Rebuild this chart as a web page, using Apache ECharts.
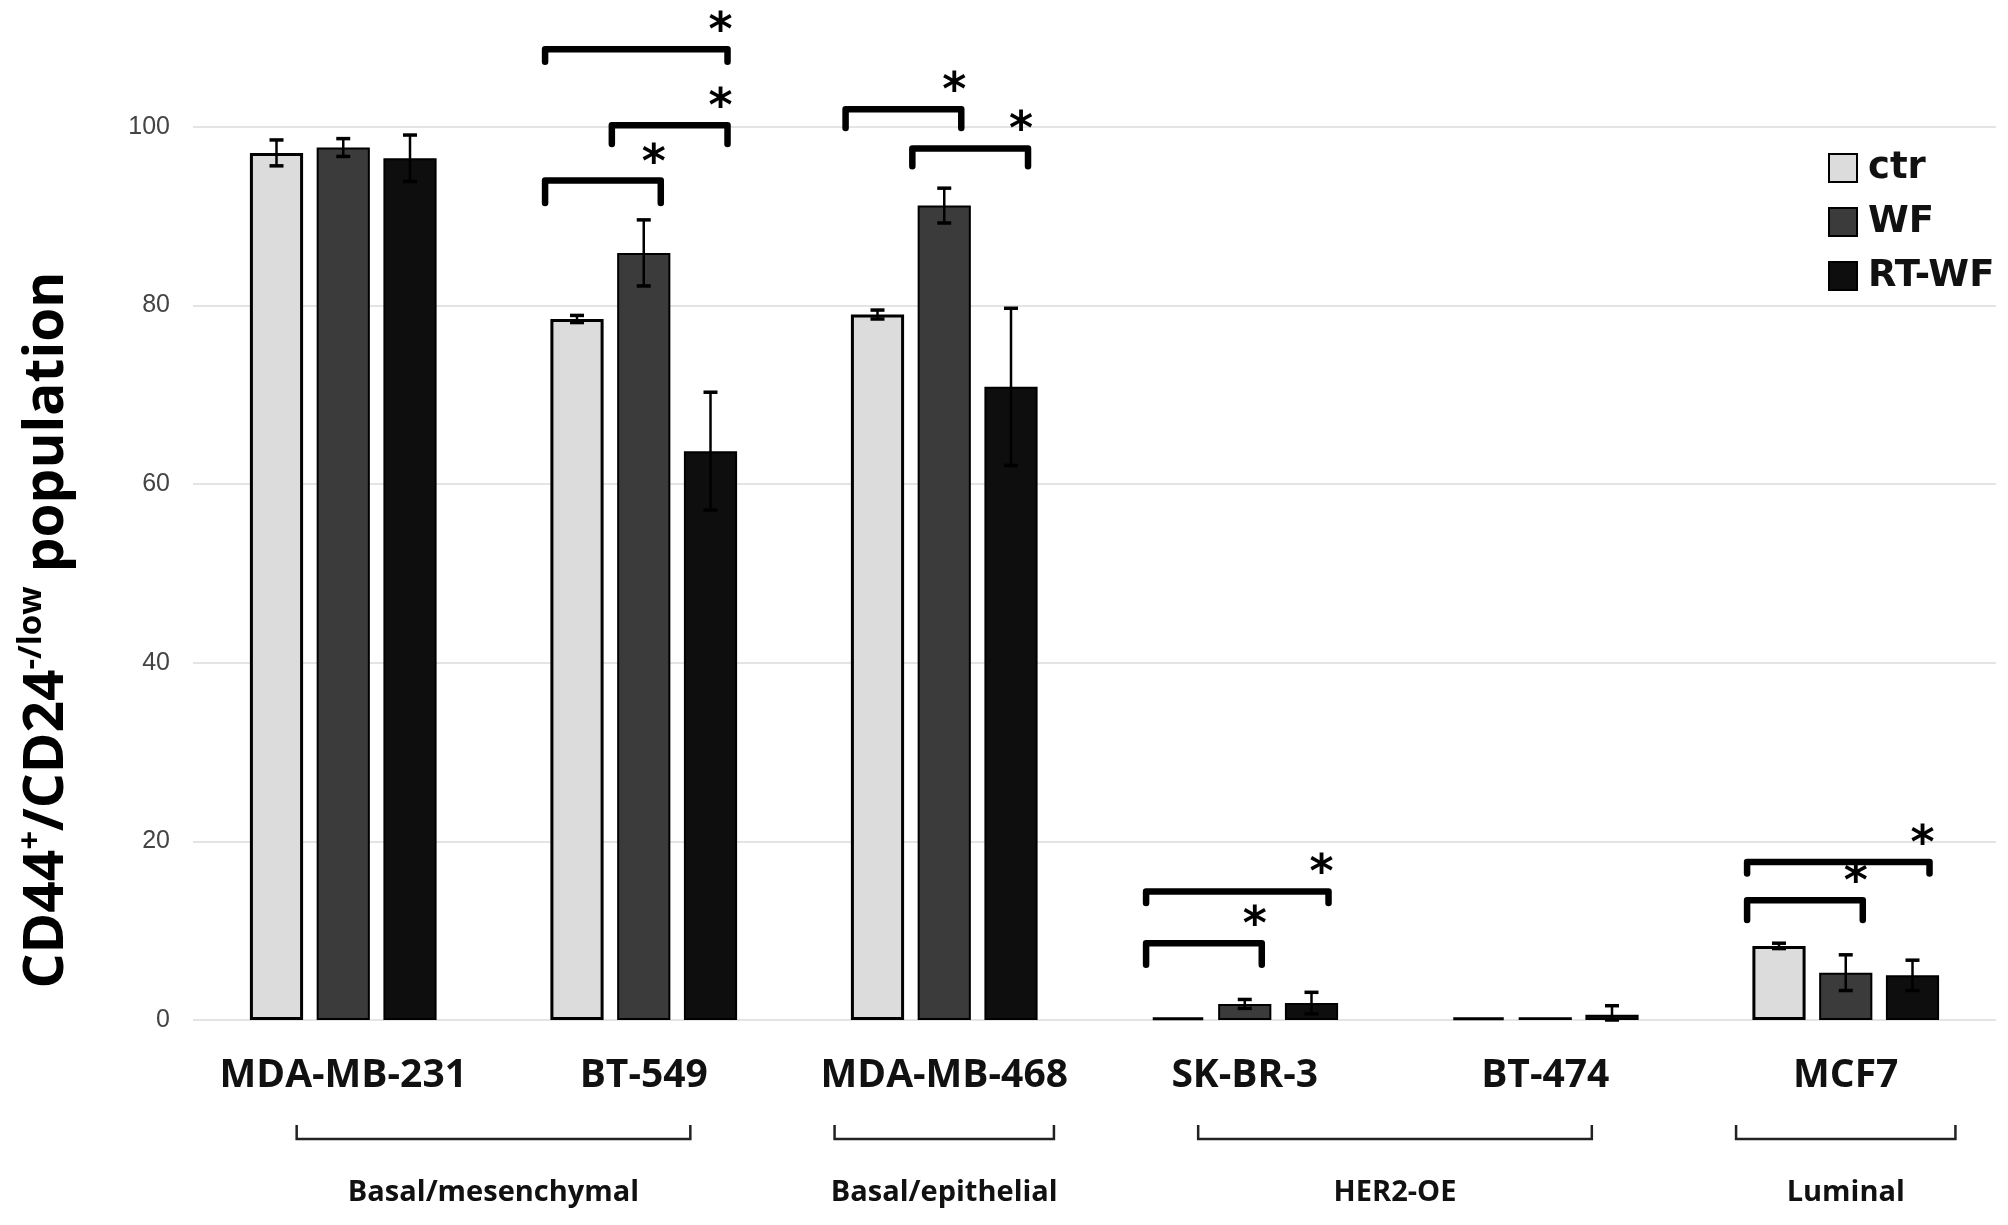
<!DOCTYPE html>
<html><head><meta charset="utf-8">
<script src="https://cdn.jsdelivr.net/npm/echarts@6/dist/echarts.min.js"></script>
<style>html,body{margin:0;padding:0;background:#fff}#c{width:2008px;height:1225px}</style>
</head><body><div id="c"></div>
<script>
const categories = ['MDA-MB-231', 'BT-549', 'MDA-MB-468', 'SK-BR-3', 'BT-474', 'MCF7'];
const seriesNames = ['ctr', 'WF', 'RT-WF'];
const ctrValues  = [97.1, 78.5, 79.0, 0.3, 0.3, 8.3];
const ctrErrors  = [1.45, 0.4, 0.5, 0, 0, 0.3];
const wfValues   = [97.7, 85.9, 91.2, 1.8, 0.3, 5.3];
const wfErrors   = [1.0, 3.7, 1.95, 0.5, 0, 2.0];
const rtwfValues = [96.5, 63.7, 70.9, 1.9, 0.6, 5.0];
const rtwfErrors = [2.6, 6.6, 8.8, 1.2, 1.0, 1.7];
const yTickValues = [0, 20, 40, 60, 80, 100];
// significance brackets: [category index, from bar, to bar, bracket level, tick end level]
const brackets = [
  [1, 0, 1, 94.0, 91.5],
  [1, 1, 2, 100.2, 98.1],
  [1, 0, 2, 108.7, 107.3],
  [2, 0, 1, 102.0, 99.9],
  [2, 1, 2, 97.6, 95.6],
  [3, 0, 1, 8.6, 6.2],
  [3, 0, 2, 14.4, 13.1],
  [5, 0, 1, 13.4, 11.2],
  [5, 0, 2, 17.7, 16.4]
];
// subtype groups: [first category, last category]
const groupSpans = [[0, 1], [2, 2], [3, 4], [5, 5]];
const groupLabels = ['Basal/mesenchymal', 'Basal/epithelial', 'HER2-OE', 'Luminal'];

const BAR_FRAC = 0.177;
const BAR_GAP = 0.255;
const fills = ['#dcdcdc', '#3b3b3b', '#0e0e0e'];
const borders = [3, 2, 2];
const valueSets = [ctrValues, wfValues, rtwfValues];
const errorSets = [ctrErrors, wfErrors, rtwfErrors];

function barCenter(api, cat, barIdx) {
  const band = api.size([1, 0])[0];
  const w = band * BAR_FRAC;
  const step = w * (1 + BAR_GAP);
  return { x: api.coord([cat, 0])[0] + (barIdx - 1) * step, w: w };
}

function errRender(barIdx) {
  return function (params, api) {
    const cat = api.value(0), v = api.value(1), e = api.value(2);
    if (!e) return;
    const c = barCenter(api, cat, barIdx);
    const yT = api.coord([cat, v + e])[1];
    const yB = api.coord([cat, Math.max(0, v - e)])[1];
    const cap = 7;
    const st = { stroke: '#000', lineWidth: 2.5 };
    return { type: 'group', children: [
      { type: 'line', shape: { x1: c.x, y1: yT, x2: c.x, y2: yB }, style: st },
      { type: 'line', shape: { x1: c.x - cap, y1: yT, x2: c.x + cap, y2: yT }, style: { stroke: '#000', lineWidth: 3.5 } },
      { type: 'line', shape: { x1: c.x - cap, y1: yB, x2: c.x + cap, y2: yB }, style: { stroke: '#000', lineWidth: 3.5 } }
    ]};
  };
}

function bracketRender(params, api) {
  const cat = api.value(0), from = api.value(1), to = api.value(2), lvl = api.value(3), tick = api.value(4);
  const a = barCenter(api, cat, from), b = barCenter(api, cat, to);
  const xL = a.x - 0.6 * a.w, xR = b.x + 0.32 * b.w;
  const y = api.coord([cat, lvl])[1], yt = api.coord([cat, tick])[1];
  return { type: 'group', children: [
    { type: 'polyline', shape: { points: [[xL, yt], [xL, y], [xR, y], [xR, yt]] },
      style: { stroke: '#000', lineWidth: 6.5, fill: null, lineJoin: 'round', lineCap: 'round' } },
    { type: 'text', style: { text: '*', x: xR - 7, y: y - 16, align: 'center', verticalAlign: 'middle',
      font: 'bold 46px "DejaVu Sans"', fill: '#000' } }
  ]};
}

function groupRender(params, api) {
  const first = api.value(0), last = api.value(1);
  const band = api.size([1, 0])[0];
  const pad = first === last ? 0.365 : 0.155;
  const xL = api.coord([first, 0])[0] - pad * band;
  const xR = api.coord([last, 0])[0] + pad * band;
  const y0 = api.coord([first, 0])[1];
  return { type: 'group', children: [
    { type: 'polyline', shape: { points: [[xL, y0 + 105], [xL, y0 + 119], [xR, y0 + 119], [xR, y0 + 105]] },
      style: { stroke: '#222', lineWidth: 2.5, fill: null } },
    { type: 'text', style: { text: groupLabels[params.dataIndex], x: (xL + xR) / 2, y: y0 + 173,
      align: 'center', verticalAlign: 'middle', font: 'bold 29px "Open Sans"', fill: '#111' } }
  ]};
}

const series = [];
seriesNames.forEach(function (n, i) {
  series.push({
    name: n, type: 'bar', data: valueSets[i], barWidth: (BAR_FRAC * 100) + '%', barGap: (BAR_GAP * 100) + '%',
    itemStyle: { color: fills[i], borderColor: '#000', borderWidth: borders[i] }, z: 2
  });
});
seriesNames.forEach(function (n, i) {
  series.push({
    type: 'custom', renderItem: errRender(i), clip: false, silent: true, z: 5,
    data: categories.map(function (c, k) { return [k, valueSets[i][k], errorSets[i][k]]; })
  });
});
series.push({ type: 'custom', renderItem: bracketRender, clip: false, silent: true, z: 6, data: brackets });
series.push({ type: 'custom', renderItem: groupRender, clip: false, silent: true, z: 6, data: groupSpans });

const chart = echarts.init(document.getElementById('c'), null, { renderer: 'canvas' });
chart.setOption({
  backgroundColor: '#fff',
  animation: false,
  grid: { left: 193, right: 12, top: 127, bottom: 205, outerBoundsMode: 'none', containLabel: false },
  legend: {
    data: seriesNames, orient: 'vertical', left: 1823, top: 143, itemWidth: 28, itemHeight: 28, itemGap: 14,
    icon: 'rect', selectedMode: false,
    textStyle: { fontFamily: 'DejaVu Sans', fontWeight: 'bold', fontSize: 37, lineHeight: 40, color: '#111', padding: [0, 0, 0, 6] }
  },
  xAxis: {
    type: 'category', data: categories,
    axisLine: { show: false }, axisTick: { show: false },
    axisLabel: { interval: 0, margin: 36, fontFamily: 'Open Sans', fontWeight: 'bold', fontSize: 39, color: '#111' }
  },
  yAxis: {
    type: 'value', min: yTickValues[0], max: yTickValues[yTickValues.length - 1], interval: yTickValues[1] - yTickValues[0],
    axisLine: { show: false }, axisTick: { show: false },
    splitLine: { lineStyle: { color: '#e4e4e4', width: 2 } },
    axisLabel: { margin: 23, fontFamily: '"Liberation Sans Narrow", "Liberation Sans", sans-serif', fontSize: 25, color: '#444' }
  },
  graphic: [{
    type: 'text', x: 47, y: 630, rotation: Math.PI / 2, silent: true,
    style: {
      text: '{m|CD44}{s|+}{m|/CD24}{s|-/low}{m| population}',
      align: 'center', verticalAlign: 'middle',
      rich: {
        m: { fontFamily: 'Open Sans', fontWeight: 'bold', fontSize: 55, lineHeight: 64, fill: '#000', color: '#000' },
        s: { fontFamily: 'Open Sans', fontWeight: 'bold', fontSize: 33, lineHeight: 28, verticalAlign: 'top', fill: '#000', color: '#000' }
      }
    }
  }],
  series: series
});
</script></body></html>
